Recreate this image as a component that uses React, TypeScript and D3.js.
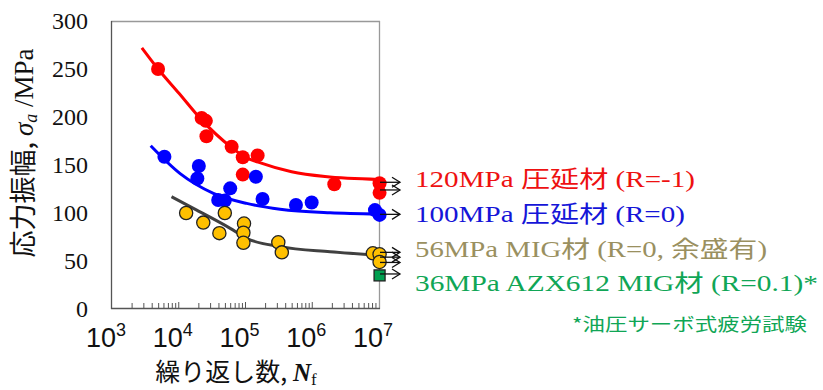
import React from "react";
import * as d3 from "d3";

// ---- data ----
const redN = [4.9e3, 2.2e4, 2.55e4, 2.6e4, 6.2e4, 9.1e4, 9.1e4, 1.52e5, 2.14e6, 1.02e7, 1.02e7];
const redS = [250, 199, 196, 180, 169, 158, 140, 160, 130, 131, 121];
const blueN = [6.1e3, 2.0e4, 1.9e4, 3.9e4, 4.9e4, 5.9e4, 1.43e5, 1.8e5, 5.7e5, 9.8e5, 8.7e6, 1.02e7];
const blueS = [158.6, 149, 136, 113.5, 113, 125.7, 137.8, 114.6, 108.3, 111, 103, 98];
const goldN = [1.29e4, 2.33e4, 4.06e4, 4.9e4, 9.5e4, 9.3e4, 9.3e4, 3.1e5, 3.5e5, 8.1e6, 1.02e7, 1.02e7];
const goldS = [100, 90, 79, 100, 89, 79.5, 69, 69.5, 59, 58, 57, 49];
const greenN = [1.02e7];
const greenS = [35];

const redFitN = [2.8e3, 4.9e3, 1e4, 2.2e4, 6e4, 1e5, 1.55e5, 4.9e5, 1.55e6, 1e7];
const redFitS = [272, 250, 225, 197, 169, 158, 153, 143, 138, 135];
const blueFitN = [3.8e3, 1.05e4, 3.3e4, 1.04e5, 3.3e5, 1.85e6, 9.7e6];
const blueFitS = [170, 141, 120.5, 110, 104, 100.3, 99];
const grayFitN = [7.8e3, 1.86e4, 5.9e4, 1.04e5, 3.3e5, 1.85e6, 9.8e6];
const grayFitS = [117, 103, 84, 73.6, 65, 59.7, 56];

// run-out arrows (stress levels at 10^7)
const arrowS = [132, 124, 98.6, 59, 54, 48.5, 36.5];

const yTicks = [0, 50, 100, 150, 200, 250, 300];
const xDecades = [3, 4, 5, 6, 7];

const legendLabels = [
  "120MPa 圧延材 (R=-1)",
  "100MPa 圧延材 (R=0)",
  "56MPa MIG材 (R=0, 余盛有)",
  "36MPa AZX612 MIG材 (R=0.1)*",
];
const legendWidths = [280, 270, 352, 403];
const legendColors = ["#ee1111", "#1515d8", "#9a9060", "#10a656"];
const footnote = "*油圧サーボ式疲労試験";

const W = 823;
const H = 390;

export default function App() {
  const x = d3.scaleLog().domain([1e3, 1e7]).range([112, 379]);
  const y = d3.scaleLinear().domain([0, 300]).range([309, 21]);

  const line = d3
    .line<[number, number]>()
    .x((d) => x(d[0]))
    .y((d) => y(d[1]))
    .curve(d3.curveMonotoneX);

  const fit = (ns: number[], ss: number[]) => line(ns.map((n, i) => [n, ss[i]]) as [number, number][]) || "";

  const minor: number[] = [];
  for (let d = 3; d < 7; d++) for (let k = 2; k <= 9; k++) minor.push(k * Math.pow(10, d));

  const serif = "'Liberation Serif', 'Times New Roman', 'Noto Sans CJK JP', serif";
  const cjk = "'Noto Sans CJK JP', sans-serif";
  const sans = "'Liberation Sans', Arial, sans-serif";

  const x7 = x(1e7);

  return (
    <svg width={W} height={H} style={{ position: "absolute", left: 0, top: 0, background: "#fff" }}>
      {/* frame */}
      <line x1={111} x2={380} y1={21.5} y2={21.5} stroke="#999" strokeWidth={1.3} />
      <line x1={379.5} x2={379.5} y1={21} y2={309} stroke="#999" strokeWidth={1.3} />
      <line x1={111.5} x2={111.5} y1={21} y2={309} stroke="#555" strokeWidth={1.3} />
      <line x1={111} x2={380} y1={308.5} y2={308.5} stroke="#555" strokeWidth={1.3} />

      {/* minor ticks */}
      {minor.map((v, i) => (
        <line key={"m" + i} x1={x(v)} x2={x(v)} y1={308} y2={303} stroke="#555" strokeWidth={1} />
      ))}
      {xDecades.slice(1, 4).map((d) => (
        <line key={"M" + d} x1={x(Math.pow(10, d))} x2={x(Math.pow(10, d))} y1={308} y2={302} stroke="#555" strokeWidth={1} />
      ))}

      {/* y tick labels */}
      {yTicks.map((t) => (
        <text key={"y" + t} x={88} y={y(t)} dy="0.35em" textAnchor="end" fontFamily={serif} fontSize={24} fill="#111">
          {t}
        </text>
      ))}

      {/* x tick labels */}
      {xDecades.map((d) => (
        <text key={"x" + d} x={x(Math.pow(10, d)) - 6} y={347} textAnchor="middle" fontFamily={sans} fontSize={27} fill="#111">
          10
          <tspan dy={-11} fontSize={18}>
            {d}
          </tspan>
        </text>
      ))}

      {/* axis titles */}
      <text x={236} y={381} textAnchor="middle" fontSize={25} fill="#111">
        <tspan fontFamily={cjk}>繰り返し数, </tspan>
        <tspan fontFamily={serif} fontStyle="italic" fontWeight="bold">N</tspan>
        <tspan fontFamily={serif} fontSize={17} dy={4}>f</tspan>
      </text>
      <text transform="translate(33,153) rotate(-90)" textAnchor="middle" fontSize={27} fill="#111">
        <tspan fontFamily={cjk}>応力振幅, </tspan>
        <tspan fontFamily={serif} fontStyle="italic">σ</tspan>
        <tspan fontFamily={serif} fontStyle="italic" fontSize={18} dy={4}>a</tspan>
        <tspan fontFamily={serif} dy={-4}> /MPa</tspan>
      </text>

      {/* fit curves */}
      <path d={fit(redFitN, redFitS)} fill="none" stroke="#ff0000" strokeWidth={3} />
      <path d={fit(blueFitN, blueFitS)} fill="none" stroke="#0000ff" strokeWidth={3} />
      <path d={fit(grayFitN, grayFitS)} fill="none" stroke="#404040" strokeWidth={3} />

      {/* points */}
      {redN.map((n, i) => (
        <circle key={"r" + i} cx={x(n)} cy={y(redS[i])} r={7} fill="#ff0000" />
      ))}
      {blueN.map((n, i) => (
        <circle key={"b" + i} cx={x(n)} cy={y(blueS[i])} r={7} fill="#0000ff" />
      ))}
      {goldN.map((n, i) => (
        <circle key={"g" + i} cx={x(n)} cy={y(goldS[i])} r={6.6} fill="#ffc000" stroke="#222" strokeWidth={1.3} />
      ))}
      {greenN.map((n, i) => (
        <rect key={"q" + i} x={x(n) - 5.5} y={y(greenS[i]) - 5.5} width={11} height={11} fill="#00a050" stroke="#222" strokeWidth={1.3} />
      ))}

      {/* run-out arrows */}
      {arrowS.map((s, i) => {
        const yy = y(s);
        const x0 = x7 + 1;
        const x1 = x7 + 21;
        return (
          <g key={"a" + i} fill="none" stroke="#111" strokeWidth={1.3}>
            <line x1={x0} x2={x1} y1={yy} y2={yy} />
            <polyline points={`${x1 - 8},${yy - 5} ${x1},${yy} ${x1 - 8},${yy + 5}`} />
          </g>
        );
      })}

      {/* legend texts */}
      {legendLabels.map((t, i) => (
        <text
          key={"l" + i}
          x={415}
          y={187 + i * 34.8}
          fontFamily={serif}
          fontSize={23}
          fill={legendColors[i]}
          textLength={legendWidths[i]}
          lengthAdjust="spacingAndGlyphs"
        >
          {t}
        </text>
      ))}
      <text x={572} y={331} fontFamily={cjk} fontSize={18} fill="#10a656" textLength={235} lengthAdjust="spacingAndGlyphs">
        {footnote}
      </text>
    </svg>
  );
}
